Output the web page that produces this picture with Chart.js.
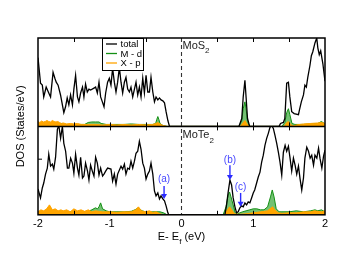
<!DOCTYPE html>
<html>
<head>
<meta charset="utf-8">
<script src="https://cdn.jsdelivr.net/npm/chart.js@4"></script>
<style>
  html, body { margin: 0; padding: 0; background: #fff; }
</style>
</head>
<body>
<canvas id="dosChart" width="363" height="256"></canvas>
<script>
// MoS2 panel (top)
var mos2TotalE = [-2.0,-1.965,-1.94,-1.92,-1.886,-1.85,-1.825,-1.79,-1.765,-1.746,-1.72,-1.686,-1.64,-1.616,-1.593,-1.57,-1.546,-1.52,-1.5,-1.476,-1.45,-1.43,-1.406,-1.38,-1.36,-1.337,-1.313,-1.29,-1.267,-1.22,-1.197,-1.173,-1.15,-1.127,-1.103,-1.08,-1.057,-1.03,-1.006,-0.983,-0.96,-0.936,-0.913,-0.89,-0.866,-0.843,-0.82,-0.796,-0.774,-0.75,-0.726,-0.704,-0.68,-0.656,-0.634,-0.61,-0.587,-0.564,-0.54,-0.517,-0.494,-0.47,-0.447,-0.425,-0.4,-0.377,-0.355,-0.33,-0.307,-0.285,-0.26,-0.237,-0.215,-0.19,-0.167,
  0.8,0.84,0.86,0.884,0.9,0.92,0.95,
  1.36,1.38,1.42,1.44,1.466,1.49,1.51,1.536,1.57,1.63,1.645,1.67,1.7,1.72,1.74,1.76,1.79,1.81,1.83,1.86,1.885,1.9,1.92,1.94,1.97,2.0];
var mos2Total = [7.0,4.4,4.2,3.0,4.0,3.4,3.0,5.5,4.9,4.5,4.2,3.2,1.4,2.0,2.9,2.2,3.2,2.2,3.8,5.2,3.0,2.5,3.4,4.0,3.0,4.3,3.5,3.8,3.7,3.9,4.0,3.4,4.5,3.0,2.5,2.0,3.4,4.5,4.9,4.2,5.9,4.5,3.5,4.5,6.0,4.5,3.4,4.5,5.0,3.8,3.5,4.0,3.0,3.8,4.5,3.2,4.0,3.0,4.9,3.4,5.2,3.5,3.5,5.0,3.5,2.5,3.0,2.7,2.9,2.7,2.6,2.4,1.5,0.6,0,
  0,0.8,3.0,4.7,3.0,0.8,0,
  0,0.3,0.4,0.8,4.4,4.5,3.0,1.5,1.3,1.2,1.7,2.5,3.2,4.2,4.0,5.0,6.2,7.2,7.6,8.5,9.0,8.0,7.3,7.7,6.4,4.6];

var mos2MdE = [-2.0,-1.9,-1.8,-1.7,-1.6,-1.5,-1.4,-1.35,-1.3,-1.25,-1.2,-1.15,-1.12,-1.05,-1.0,-0.9,-0.8,-0.7,-0.6,-0.5,-0.4,-0.36,-0.345,-0.33,-0.315,-0.3,-0.26,-0.2,
  0.8,0.84,0.86,0.884,0.9,0.92,0.95,
  1.4,1.44,1.466,1.49,1.51,1.54,1.58,1.7,1.8,1.9,1.95,1.97,2.0];
var mos2Md = [0.3,0.3,0.3,0.3,0.2,0.2,0.2,0.2,0.4,0.45,0.45,0.45,0.3,0.2,0.2,0.2,0.2,0.25,0.2,0.2,0.2,0.3,0.7,1.0,0.7,0.3,0.1,0,
  0,0.6,1.8,2.5,1.8,0.5,0,
  0,0.4,1.4,1.8,1.2,0.3,0.2,0.2,0.25,0.3,0.5,0.4,0.25];

var mos2XpE = [-2.0,-1.975,-1.95,-1.925,-1.9,-1.875,-1.85,-1.825,-1.8,-1.775,-1.75,-1.725,-1.7,-1.675,-1.65,-1.6,-1.55,-1.5,-1.45,-1.4,-1.3,-1.2,-1.1,-1.0,-0.9,-0.8,-0.7,-0.6,-0.5,-0.4,-0.36,-0.33,-0.3,-0.26,-0.2,
  0.82,0.86,0.884,0.91,0.94,
  1.43,1.466,1.49,1.52,1.56,1.6,1.7,1.8,1.9,1.95,2.0];
var mos2Xp = [0.5,0.4,0.55,0.45,0.5,0.6,0.5,0.45,0.6,0.5,0.45,0.5,0.4,0.3,0.35,0.25,0.3,0.25,0.3,0.2,0.2,0.2,0.15,0.2,0.15,0.2,0.15,0.2,0.15,0.2,0.3,0.4,0.25,0.1,0,
  0,0.4,0.6,0.3,0,
  0,0.4,0.5,0.2,0.05,0.15,0.25,0.3,0.35,0.4,0.3];

// MoTe2 panel (bottom)
var mote2TotalE = [-2.0,-1.965,-1.94,-1.92,-1.895,-1.87,-1.85,-1.825,-1.8,-1.78,-1.755,-1.73,-1.71,-1.685,-1.66,-1.64,-1.615,-1.59,-1.57,-1.545,-1.52,-1.5,-1.476,-1.45,-1.43,-1.406,-1.38,-1.36,-1.337,-1.31,-1.29,-1.267,-1.243,-1.22,-1.197,-1.173,-1.15,-1.127,-1.1,-1.08,-1.057,-1.03,-0.983,-0.96,-0.936,-0.913,-0.89,-0.843,-0.82,-0.796,-0.774,-0.75,-0.726,-0.704,-0.68,-0.656,-0.634,-0.61,-0.587,-0.564,-0.54,-0.517,-0.494,-0.47,-0.447,-0.425,-0.4,-0.377,-0.355,-0.33,-0.307,-0.285,-0.26,-0.237,-0.215,-0.19,-0.177,
  0.58,0.605,0.628,0.651,0.675,0.698,0.72,0.745,0.768,0.79,0.814,0.837,0.86,0.884,0.907,0.93,0.953,0.977,1.0,1.02,1.047,1.07,1.094,1.117,1.14,1.163,1.187,1.21,1.233,1.257,1.28,1.303,1.327,1.35,1.373,1.397,1.42,1.444,1.466,1.49,1.513,1.536,1.56,1.583,1.606,1.63,1.653,1.676,1.7,1.72,1.746,1.77,1.793,1.815,1.84,1.86,1.886,1.91,1.93,1.956,1.98,2.0];
var mote2Total = [2.6,1.7,2.7,3.2,4.1,4.7,6.1,4.9,5.1,4.6,5.8,8.6,9.0,7.7,8.9,7.2,6.4,4.7,4.7,5.7,5.2,4.2,6.1,4.7,4.0,5.8,3.7,3.9,5.2,4.4,3.5,5.0,4.4,3.9,5.8,5.2,4.0,4.7,3.9,4.1,4.4,4.7,4.6,3.4,4.1,3.1,4.1,4.9,4.6,5.1,4.1,4.7,4.6,5.4,4.7,5.4,6.2,6.4,7.4,6.6,5.2,4.7,3.6,4.1,4.4,5.2,4.1,2.4,1.9,2.2,1.6,1.9,1.6,1.4,0.9,0.2,0,
  0,0,1.0,2.3,3.5,3.0,1.7,0.8,0.2,0.3,0.7,0.9,0.8,1.2,1.0,1.3,1.2,1.7,2.2,2.5,3.2,3.8,4.3,5.3,6.0,7.0,7.7,8.2,8.8,9.0,8.7,8.0,7.2,6.3,5.3,4.0,6.3,7.0,6.4,6.9,5.7,4.4,5.7,5.0,4.1,4.9,3.6,2.5,3.7,5.7,6.8,6.4,5.7,6.0,5.0,6.0,5.7,6.7,5.7,4.7,5.9,6.5];

var mote2MdE = [-2.0,-1.9,-1.84,-1.8,-1.7,-1.6,-1.5,-1.4,-1.3,-1.25,-1.2,-1.17,-1.15,-1.127,-1.1,-1.05,-1.0,-0.9,-0.8,-0.7,-0.65,-0.6,-0.55,-0.5,-0.4,-0.3,-0.25,-0.2,
  0.58,0.62,0.65,0.67,0.69,0.72,0.75,0.78,0.85,0.9,0.95,1.0,1.05,1.1,1.15,1.2,1.24,1.265,1.29,1.32,1.36,1.4,1.5,1.6,1.7,1.8,1.86,1.9,1.95,2.0];
var mote2Md = [0.3,0.3,0.4,0.3,0.3,0.3,0.3,0.3,0.35,0.5,0.7,0.6,0.8,1.2,0.6,0.4,0.3,0.3,0.3,0.35,0.5,0.7,0.4,0.3,0.3,0.3,0.2,0,
  0,0.8,2.0,2.3,1.8,1.0,0.2,0.1,0.3,0.4,0.5,0.6,0.6,0.5,0.5,0.8,1.8,2.5,1.8,0.6,0.3,0.3,0.3,0.4,0.3,0.4,0.5,0.4,0.5,0.3];

var mote2XpE = [-2.0,-1.96,-1.92,-1.88,-1.84,-1.8,-1.76,-1.72,-1.68,-1.65,-1.6,-1.55,-1.5,-1.45,-1.4,-1.35,-1.3,-1.25,-1.2,-1.15,-1.1,-1.0,-0.9,-0.8,-0.7,-0.64,-0.6,-0.56,-0.5,-0.45,-0.4,-0.35,-0.3,-0.25,
  0.6,0.64,0.67,0.7,0.74,0.8,0.9,1.0,1.1,1.2,1.25,1.27,1.3,1.35,1.4,1.5,1.6,1.7,1.8,1.85,1.9,1.95,2.0];
var mote2Xp = [0.3,0.5,0.4,0.6,1.0,0.5,0.6,0.4,0.5,0.4,0.5,0.3,0.6,0.4,0.5,0.35,0.5,0.3,0.4,0.35,0.3,0.3,0.25,0.3,0.3,0.5,0.8,0.4,0.3,0.4,0.25,0.3,0.1,0,
  0,0.5,0.8,0.5,0.1,0.05,0.1,0.2,0.3,0.4,0.7,0.8,0.5,0.2,0.15,0.2,0.2,0.3,0.3,0.4,0.35,0.3,0.4];

// labelled states in the MoTe2 panel
var markLabels = ['(a)', '(b)', '(c)'];
var markE = [-0.243, 0.675, 0.824];
var markTextDos = [3.6, 5.5, 2.8];
var markFromDos = [2.9, 5.0, 2.2];
var markToDos = [1.6, 3.5, 0.8];

var xTicksInner = [-1.5, -1, -0.5, 0.5, 1, 1.5];
var legendNames = ['total', 'M - d', 'X - p'];

var FONT = '"Liberation Sans", Arial, sans-serif';
var GREEN_LINE = '#149014';
var GREEN_FILL = 'rgba(40,160,40,0.65)';
var ORANGE = '#ffa500';
var BLUE = '#2b2bff';

function pairUp(xs, ys) {
    return xs.map(function(x, i) { return {x: x, y: ys[i]}; });
}

function lineSet(label, xs, ys, axis, color, fillColor) {
    return {
        label: label,
        data: pairUp(xs, ys),
        yAxisID: axis,
        borderColor: color,
        backgroundColor: fillColor || color,
        borderWidth: fillColor ? 1 : 1.3,
        pointRadius: 0,
        tension: 0,
        fill: fillColor ? 'origin' : false
    };
}

function drawWithSub(ctx, base, sub, x, y, size) {
    ctx.font = size + 'px ' + FONT;
    ctx.fillText(base, x, y);
    var w = ctx.measureText(base).width;
    ctx.font = Math.round(size * 0.7) + 'px ' + FONT;
    ctx.fillText(sub, x + w, y + size * 0.38);
    return w + ctx.measureText(sub).width;
}

var decorPlugin = {
    id: 'decor',
    afterDatasetsDraw: function(chart) {
        var ctx = chart.ctx;
        var area = chart.chartArea;
        var xs = chart.scales.x;
        var yTop = chart.scales.yTop;
        var yBot = chart.scales.yBottom;
        var mid = yTop.bottom;

        ctx.save();
        // dashed Fermi level
        var x0 = xs.getPixelForValue(0);
        ctx.strokeStyle = '#333';
        ctx.lineWidth = 1.1;
        ctx.setLineDash([4, 3]);
        ctx.beginPath();
        ctx.moveTo(x0, area.top);
        ctx.lineTo(x0, area.bottom);
        ctx.stroke();
        ctx.setLineDash([]);

        // frame and divider
        ctx.strokeStyle = '#000';
        ctx.lineWidth = 1.5;
        ctx.strokeRect(area.left, area.top, area.right - area.left, area.bottom - area.top);
        ctx.beginPath();
        ctx.moveTo(area.left, mid);
        ctx.lineTo(area.right, mid);
        ctx.stroke();

        // inner ticks
        ctx.lineWidth = 1;
        xTicksInner.forEach(function(v) {
            var px = Math.round(xs.getPixelForValue(v)) + 0.5;
            ctx.beginPath();
            ctx.moveTo(px, area.top); ctx.lineTo(px, area.top + 4);
            ctx.moveTo(px, mid - 4); ctx.lineTo(px, mid + 4);
            ctx.moveTo(px, area.bottom); ctx.lineTo(px, area.bottom - 4);
            ctx.stroke();
        });
        var ty = yBot.getPixelForValue(5.6);
        ctx.beginPath();
        ctx.moveTo(area.left, ty); ctx.lineTo(area.left + 4, ty);
        ctx.stroke();

        // panel names
        ctx.fillStyle = '#222';
        ctx.textAlign = 'left';
        ctx.textBaseline = 'alphabetic';
        drawWithSub(ctx, 'MoS', '2', x0 + 1, area.top + 10.5, 11);
        drawWithSub(ctx, 'MoTe', '2', x0 + 1, mid + 12, 11);

        // legend
        var lx = 102.5, ly = 38.5, lw = 41, lh = 32;
        ctx.fillStyle = '#fff';
        ctx.fillRect(lx, ly, lw, lh);
        ctx.strokeStyle = '#000';
        ctx.lineWidth = 1;
        ctx.strokeRect(lx, ly, lw, lh);
        var legendColors = ['#000', GREEN_LINE, ORANGE];
        ctx.font = '9.5px ' + FONT;
        ctx.textBaseline = 'middle';
        legendNames.forEach(function(name, i) {
            var ry = ly + 5.5 + i * 9.5;
            ctx.strokeStyle = legendColors[i];
            ctx.lineWidth = 1.3;
            ctx.beginPath();
            ctx.moveTo(lx + 3.5, ry); ctx.lineTo(lx + 14.5, ry);
            ctx.stroke();
            ctx.fillStyle = '#000';
            ctx.fillText(name, lx + 18, ry + 0.5);
        });

        // arrows with labels
        ctx.strokeStyle = BLUE;
        ctx.fillStyle = BLUE;
        ctx.textAlign = 'center';
        ctx.textBaseline = 'middle';
        ctx.font = '10px ' + FONT;
        markLabels.forEach(function(lab, i) {
            var px = xs.getPixelForValue(markE[i]);
            var yFrom = yBot.getPixelForValue(markFromDos[i]);
            var yTo = yBot.getPixelForValue(markToDos[i]);
            ctx.fillStyle = '#4646ff';
            ctx.fillText(lab, px, yBot.getPixelForValue(markTextDos[i]));
            ctx.fillStyle = BLUE;
            ctx.lineWidth = 1.4;
            ctx.beginPath();
            ctx.moveTo(px, yFrom); ctx.lineTo(px, yTo - 4);
            ctx.stroke();
            ctx.beginPath();
            ctx.moveTo(px - 3, yTo - 5); ctx.lineTo(px + 3, yTo - 5); ctx.lineTo(px, yTo);
            ctx.closePath();
            ctx.fill();
        });

        // axis titles
        ctx.fillStyle = '#000';
        ctx.textAlign = 'left';
        ctx.textBaseline = 'alphabetic';
        ctx.font = '11px ' + FONT;
        var partA = 'E- E', partC = ' (eV)';
        var wA = ctx.measureText(partA).width;
        var wC = ctx.measureText(partC).width;
        ctx.font = '8px ' + FONT;
        var wB = ctx.measureText('f').width;
        var startX = (area.left + area.right) / 2 - (wA + wB + wC) / 2;
        var baseY = 239.5;
        drawWithSub(ctx, partA, 'f', startX, baseY, 11);
        ctx.font = '11px ' + FONT;
        ctx.fillText(partC, startX + wA + wB, baseY);

        ctx.save();
        ctx.translate(21, (area.top + area.bottom) / 2);
        ctx.rotate(-Math.PI / 2);
        ctx.textAlign = 'center';
        ctx.textBaseline = 'middle';
        ctx.fillText('DOS (States/eV)', 0, 0);
        ctx.restore();

        ctx.restore();
    }
};

var myChart = new Chart(document.getElementById('dosChart'), {
    type: 'line',
    data: {
        datasets: [
            lineSet('total', mos2TotalE, mos2Total, 'yTop', '#000'),
            lineSet('total', mote2TotalE, mote2Total, 'yBottom', '#000'),
            lineSet('X - p', mos2XpE, mos2Xp, 'yTop', ORANGE, ORANGE),
            lineSet('X - p', mote2XpE, mote2Xp, 'yBottom', ORANGE, ORANGE),
            lineSet('M - d', mos2MdE, mos2Md, 'yTop', GREEN_LINE, GREEN_FILL),
            lineSet('M - d', mote2MdE, mote2Md, 'yBottom', GREEN_LINE, GREEN_FILL)
        ]
    },
    options: {
        responsive: false,
        animation: false,
        layout: { padding: { left: 38, right: 38, top: 38, bottom: 22 } },
        plugins: {
            legend: { display: false },
            tooltip: { enabled: false }
        },
        scales: {
            x: {
                type: 'linear',
                min: -2,
                max: 2,
                grid: { display: false, drawTicks: false },
                border: { display: false },
                ticks: {
                    stepSize: 1,
                    padding: 3,
                    color: '#000',
                    font: { family: FONT, size: 11 }
                }
            },
            yBottom: {
                type: 'linear',
                stack: 'dos',
                stackWeight: 1,
                min: 0,
                max: 8.9,
                display: false
            },
            yTop: {
                type: 'linear',
                stack: 'dos',
                stackWeight: 1,
                min: 0,
                max: 9.0,
                display: false
            }
        }
    },
    plugins: [decorPlugin]
});
</script>
</body>
</html>
